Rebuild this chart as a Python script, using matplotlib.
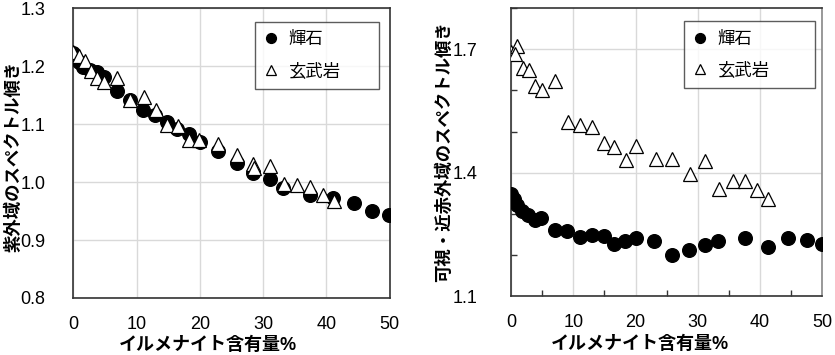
import matplotlib
matplotlib.use('Agg')
import matplotlib.pyplot as plt
from matplotlib.ticker import MultipleLocator

plt.rcParams['font.family'] = ['Liberation Sans', 'Noto Sans CJK JP']

# 紫外域 (left)
uv_px_x = [0, 0.9, 1.6, 2.7, 3.7, 4.8, 6.9, 9.0, 11.0, 12.9, 14.8, 16.4, 18.2, 20.0,
           22.9, 25.8, 28.4, 31.0, 33.2, 37.4, 41.1, 44.4, 47.2, 49.9]
uv_px_y = [1.222, 1.208, 1.199, 1.193, 1.190, 1.181, 1.158, 1.141, 1.124, 1.115, 1.103, 1.092,
           1.083, 1.070, 1.054, 1.033, 1.016, 1.006, 0.989, 0.977, 0.972, 0.964, 0.951, 0.943]
uv_ba_x = [0, 0.85, 1.9, 2.8, 3.7, 4.8, 6.9, 9.0, 11.1, 13.0, 14.8, 16.5, 18.2, 19.9,
           22.9, 25.9, 28.4, 28.5, 31.0, 33.3, 35.4, 37.4, 39.4, 41.2]
uv_ba_y = [1.225, 1.217, 1.209, 1.192, 1.180, 1.173, 1.179, 1.142, 1.147, 1.125, 1.098, 1.097,
           1.072, 1.072, 1.066, 1.047, 1.031, 1.024, 1.028, 0.997, 0.995, 0.991, 0.978, 0.968]

# 可視・近赤外域 (right)
vis_px_x = [0, 0.4, 1.0, 1.8, 2.7, 3.8, 4.8, 7.0, 9.0, 11.0, 13.0, 15.0, 16.6, 18.3, 20.1,
            23.0, 25.8, 28.6, 31.2, 33.3, 37.6, 41.2, 44.5, 47.5, 50.0]
vis_px_y = [1.347, 1.335, 1.322, 1.308, 1.298, 1.286, 1.290, 1.261, 1.257, 1.243, 1.249, 1.245,
            1.227, 1.233, 1.240, 1.235, 1.200, 1.212, 1.223, 1.235, 1.241, 1.219, 1.240, 1.237, 1.226]
vis_ba_x = [0, 0.9, 0.6, 1.9, 2.9, 3.9, 4.9, 7.0, 9.1, 11.0, 13.0, 15.0, 16.6, 18.4, 20.1,
            23.3, 25.9, 28.8, 31.2, 33.4, 35.6, 37.6, 39.5, 41.3]
vis_ba_y = [1.693, 1.709, 1.689, 1.654, 1.650, 1.610, 1.602, 1.624, 1.523, 1.515, 1.510, 1.471,
            1.462, 1.432, 1.465, 1.434, 1.434, 1.396, 1.428, 1.361, 1.379, 1.379, 1.357, 1.336]

labels = ['輝石', '玄武岩']
xlabel = 'イルメナイト含有量%'

fig = plt.figure(figsize=(8.35, 3.55), dpi=100)
ax1 = fig.add_axes([0.0878, 0.1606, 0.3790, 0.8160])
ax2 = fig.add_axes([0.6120, 0.1660, 0.3730, 0.8110])


def draw(ax, px_x, px_y, ba_x, ba_y, legbox):
    ax.plot(px_x, px_y, 'o', color='black', markersize=9.8, label=labels[0], zorder=3)
    ax.plot(ba_x, ba_y, '^', markerfacecolor='white', markeredgecolor='black',
            markeredgewidth=0.9, markersize=10.5, label=labels[1], zorder=4)
    ax.set_xlim(0, 50)
    ax.set_xticks([0, 10, 20, 30, 40, 50])
    ax.grid(True, color='#d9d9d9', linewidth=1.0, zorder=0)
    ax.set_axisbelow(True)
    for s in ax.spines.values():
        s.set_color('#333333')
        s.set_linewidth(1.2)
    ax.tick_params(which='major', length=0, labelsize=13)
    ax.tick_params(axis='x', which='major', pad=13)
    ax.set_xlabel(xlabel, fontsize=13, fontweight='bold')
    leg = ax.legend(loc='upper left', bbox_to_anchor=legbox, mode='expand',
                    fontsize=12.5, frameon=True, fancybox=False,
                    markerscale=0.72, handletextpad=0.6, labelspacing=0.85,
                    borderpad=0.55, handlelength=0.8, borderaxespad=0)
    leg.get_frame().set_edgecolor('#333333')
    leg.get_frame().set_linewidth(1.0)
    return leg


draw(ax1, uv_px_x, uv_px_y, uv_ba_x, uv_ba_y, (0.574, 0.725, 0.391, 0.228))
ax1.set_ylim(0.8, 1.3)
ax1.set_yticks([0.8, 0.9, 1.0, 1.1, 1.2, 1.3])
ax1.set_yticklabels(['0.8', '0.9', '1.0', '1.1', '1.2', '1.3'])
ax1.tick_params(axis='y', which='major', pad=20)
ax1.set_ylabel('紫外域のスペクトル傾き', fontsize=12.5, fontweight='bold')
ax1.xaxis.set_label_coords(0.424, -0.135)
ax1.yaxis.set_label_coords(-0.165, 0.488)

draw(ax2, vis_px_x, vis_px_y, vis_ba_x, vis_ba_y, (0.555, 0.726, 0.421, 0.229))
ax2.set_ylim(1.1, 1.8)
ax2.set_yticks([1.1, 1.4, 1.7])
ax2.yaxis.set_minor_locator(MultipleLocator(0.1))
ax2.xaxis.set_minor_locator(MultipleLocator(5))
ax2.tick_params(which='minor', direction='in', length=4, width=1, color='#333333')
ax2.tick_params(axis='y', which='major', pad=24)
ax2.spines['right'].set_color('#888888')
ax2.set_ylabel('可視・近赤外域のスペクトル傾き', fontsize=12.5, fontweight='bold')
ax2.xaxis.set_label_coords(0.414, -0.138)
ax2.yaxis.set_label_coords(-0.188, 0.5)

plt.savefig('out.png', dpi=100)
